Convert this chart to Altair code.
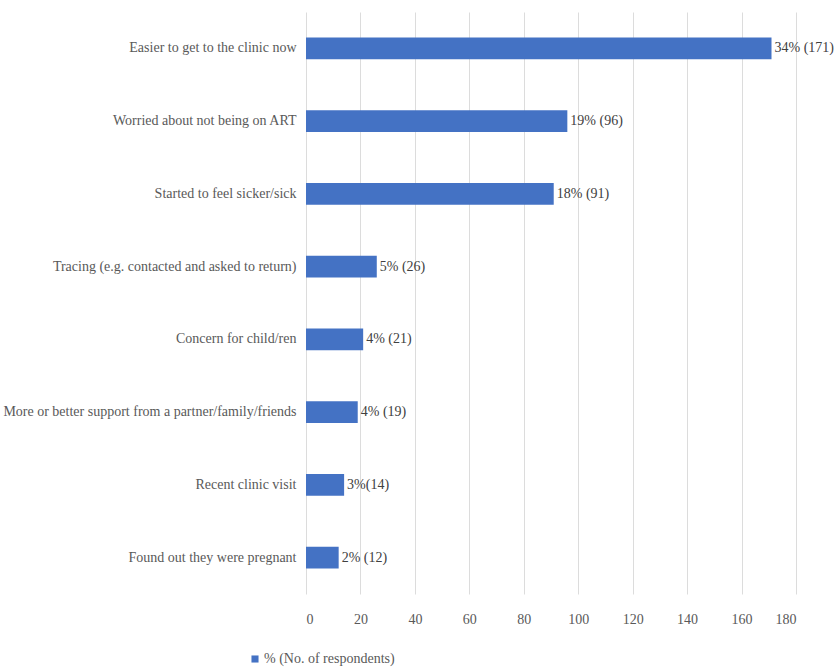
import altair as alt
import pandas as pd

reasons = [
    "Easier to get to the clinic now",
    "Worried about not being on ART",
    "Started to feel sicker/sick",
    "Tracing (e.g. contacted and asked to return)",
    "Concern for child/ren",
    "More or better support from a partner/family/friends",
    "Recent clinic visit",
    "Found out they were pregnant",
]
counts = [171, 96, 91, 26, 21, 19, 14, 12]
labels = ["34% (171)", "19% (96)", "18% (91)", "5% (26)", "4% (21)", "4% (19)", "3%(14)", "2% (12)"]
series_name = "% (No. of respondents)"

df = pd.DataFrame({
    "reason": reasons,
    "count": counts,
    "label": labels,
    "series": [series_name] * len(reasons),
})

FONT = "Liberation Serif"
GREY = "#595959"

base = alt.Chart(df).encode(
    y=alt.Y(
        "reason:N",
        sort=reasons,
        title=None,
        scale=alt.Scale(paddingInner=0.7, paddingOuter=0.35),
        axis=alt.Axis(
            labelFont=FONT, labelFontSize=14, labelColor=GREY,
            ticks=False, domain=False, labelPadding=10, labelLimit=400,
        ),
    ),
)

bars = base.mark_bar(color="#4472C4").encode(
    x=alt.X(
        "count:Q",
        title=None,
        scale=alt.Scale(domain=[0, 180], nice=False),
        axis=alt.Axis(
            values=list(range(0, 181, 20)),
            labelFont=FONT, labelFontSize=14, labelColor=GREY,
            ticks=False, domain=False, labelPadding=18,
            grid=True, gridColor="#dcdcdc", gridWidth=1,
        ),
    ),
    color=alt.Color(
        "series:N",
        scale=alt.Scale(range=["#4472C4"]),
        legend=alt.Legend(
            title=None, orient="none", legendX=-58, legendY=640,
            symbolType="square", symbolSize=50, symbolStrokeWidth=0,
            labelFont=FONT, labelFontSize=14, labelColor=GREY,
            labelOffset=2,
        ),
    ),
)

texts = base.mark_text(
    align="left", baseline="middle", dx=3, font=FONT, fontSize=14, color="#404040"
).encode(
    x="count:Q",
    text="label:N",
)

chart = (
    alt.layer(bars, texts)
    .properties(
        width=490,
        height=582,
        autosize=alt.AutoSizeParams(type="none"),
        padding={"left": 306, "top": 12, "right": 42, "bottom": 76},
        background="white",
    )
    .configure_view(stroke=None)
)

chart.save("out.html", embed_options={"renderer": "svg", "actions": False})
